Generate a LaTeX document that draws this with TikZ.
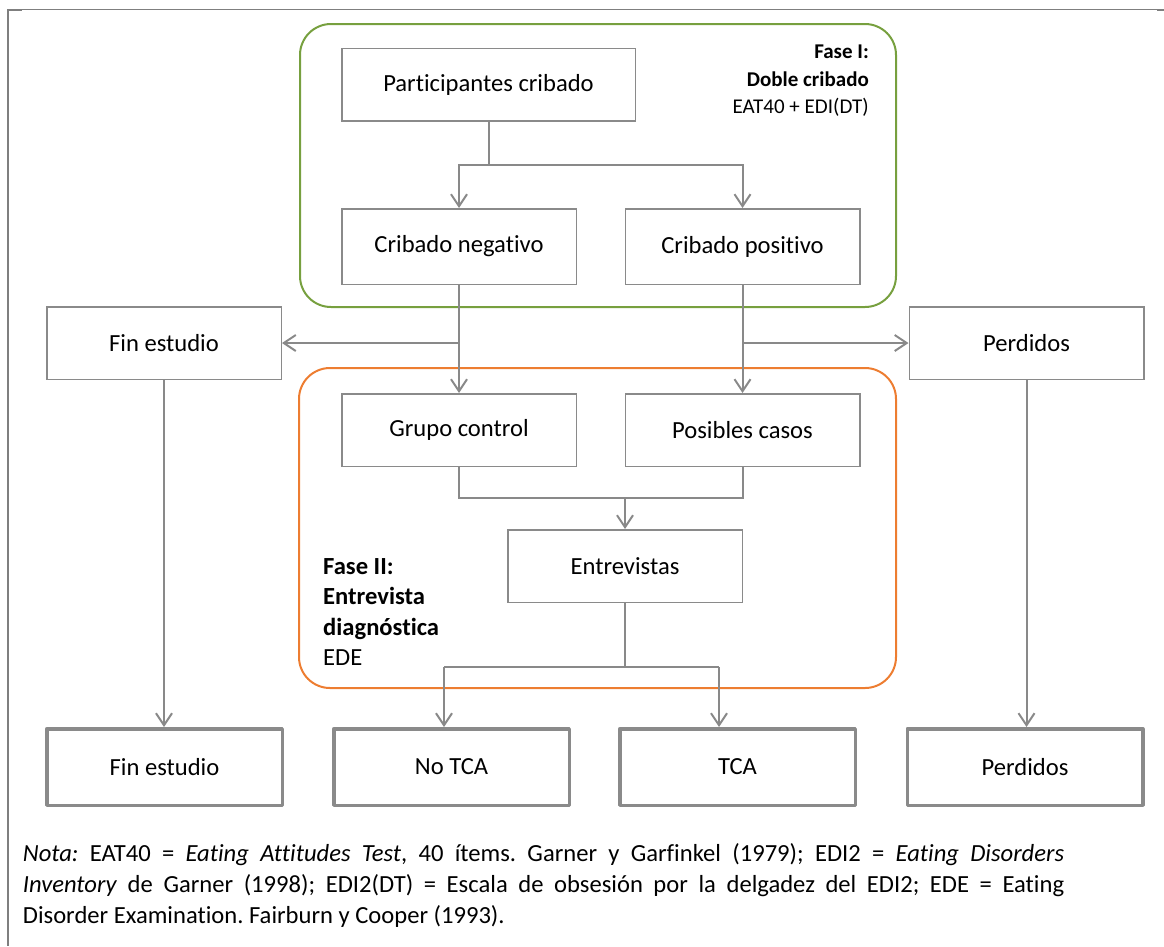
\documentclass[tikz,border=0pt]{standalone}
\usepackage{fontspec}
\setmainfont{Carlito}[Ligatures=NoCommon]
\usetikzlibrary{arrows.meta}
\frenchspacing

\definecolor{boxgray}{HTML}{8A8A8A}
\definecolor{lngray}{HTML}{898989}
\definecolor{framegray}{HTML}{7F7F7F}
\definecolor{phasegreen}{HTML}{77A03F}
\definecolor{phaseorange}{HTML}{ED7D31}

\newcommand{\boxfont}{\fontsize{24.6}{30}\selectfont}

\begin{document}
\begin{tikzpicture}[x=1pt,y=-1pt,
  stepbox/.style={draw=boxgray, line width=1.5pt, minimum width=234.5pt,
    minimum height=72.5pt, inner sep=0pt, font=\boxfont},
  endbox/.style={draw=boxgray, line width=3.5pt, line join=round,
    minimum width=235.5pt, minimum height=76.5pt, inner sep=0pt, font=\boxfont},
  link/.style={draw=lngray, line width=2pt},
  arr/.style={link, -{Straight Barb[length=12pt,width=16pt]}},
  phase/.style={line width=2pt, rounded corners=31pt},
  notaline/.style={anchor=base west, inner sep=0pt, font=\fontsize{24.6}{31}\selectfont},
]
\useasboundingbox (0,0) rectangle (1164,946);

% cell frame
\draw[framegray, line width=1.3pt] (7,9.5) -- (1164,9.5);
\draw[framegray, line width=2pt] (7.5,9) -- (7.5,946);
\draw[framegray, line width=2.2pt] (7,10) -- (22,10);
\draw[framegray, line width=2.2pt] (1157,10) -- (1164,10);

% phase frames
\draw[phase, draw=phasegreen] (300,24) rectangle (896,307);
\draw[phase, draw=phaseorange] (299,368) rectangle (896,688);

% phase captions
\node[anchor=east, align=right, inner sep=0pt,
  font=\fontsize{21}{27.5}\selectfont] (faseI) at (869,81)
  {\textbf{Fase I:}\\ \textbf{Doble cribado}\\ EAT40 + EDI(DT)};
\node[anchor=west, align=left, inner sep=0pt,
  font=\fontsize{24.6}{30.3}\selectfont] (faseII) at (323,612)
  {\textbf{Fase II:}\\ \textbf{Entrevista}\\ \textbf{diagnóstica}\\ EDE};

% flow boxes
\node[stepbox, minimum width=293.5pt] (part) at (488.5,84.5) {Participantes cribado};
\node[stepbox, minimum height=75.5pt] (neg) at (459,246.5) {Cribado negativo};
\node[stepbox, minimum height=75.5pt] (pos) at (742.5,246.5) {Cribado positivo};
\node[stepbox] (fin1) at (164,343) {Fin estudio};
\node[stepbox] (per1) at (1026.5,343) {Perdidos};
\node[stepbox] (grupo) at (459,430) {Grupo control};
\node[stepbox] (casos) at (742.5,430) {Posibles casos};
\node[stepbox] (entre) at (625,566) {Entrevistas};
\node[endbox] (fin2) at (164.5,767) {Fin estudio};
\node[endbox] (notca) at (451.5,767) {No TCA};
\node[endbox] (tca) at (737.5,767) {TCA};
\node[endbox] (per2) at (1025,767) {Perdidos};

% connectors
\coordinate (s1) at (488.5,165);
\draw[link] (part.south) -- (s1);
\draw[arr] (s1) -| (neg.north);
\draw[arr] (s1) -| (pos.north);

\coordinate (b1) at (459,343);
\coordinate (b2) at (742.5,343);
\draw[arr] (neg.south) -- (grupo.north);
\draw[arr] (pos.south) -- (casos.north);
\draw[arr] (b1) -- (fin1.east);
\draw[arr] (b2) -- (per1.west);

\coordinate (m) at (625,498);
\draw[link] (grupo.south) |- (m) -| (casos.south);
\draw[arr] (m) -- (entre.north);

\coordinate (sp) at (625,667);
\coordinate (kL) at (444,667);
\coordinate (kR) at (719,667);
\draw[link] (entre.south) -- (sp);
\draw[link] (kL) -- (kR);
\draw[arr] (kL) -- (kL |- notca.north);
\draw[arr] (kR) -- (kR |- tca.north);

\draw[arr] (fin1.south) -- (fin1.south |- fin2.north);
\draw[arr] (per1.south) -- (per1.south |- per2.north);

% note under the chart
\node[notaline] (nota1) at (22.7,861) {\makebox[1041.3pt][s]{\textit{Nota:} EAT40 = \textit{Eating Attitudes Test}, 40 ítems. Garner y Garfinkel (1979); EDI2 = \textit{Eating Disorders}}};
\node[notaline] (nota2) at (22.7,892) {\makebox[1041.3pt][s]{\textit{Inventory} de Garner (1998); EDI2(DT) = Escala de obsesión por la delgadez del EDI2; EDE = Eating}};
\node[notaline] (nota3) at (22.7,923) {Disorder Examination. Fairburn y Cooper (1993).};
\end{tikzpicture}
\end{document}
